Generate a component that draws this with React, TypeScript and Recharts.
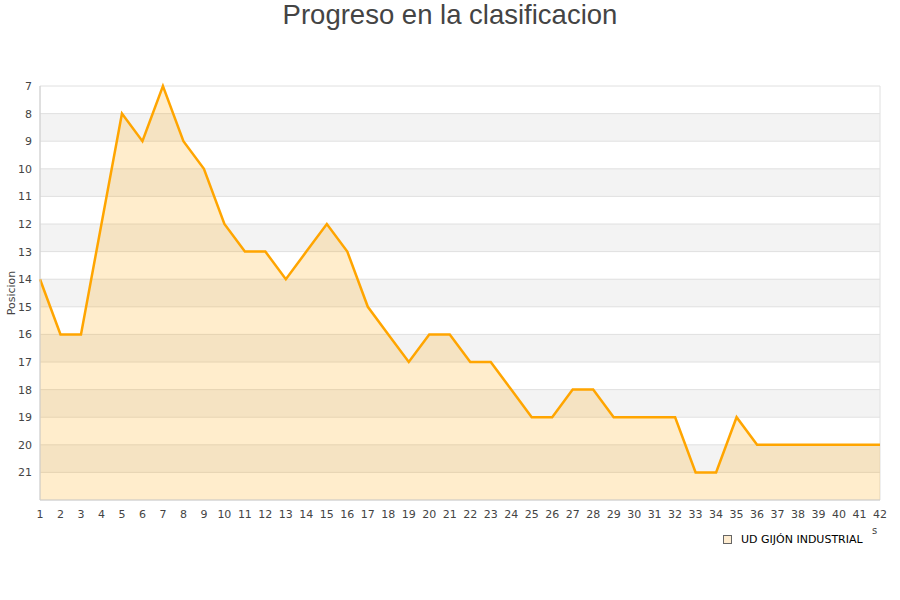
import { Area, CartesianGrid, ComposedChart, XAxis, YAxis } from 'recharts';

const jornadas = [
  1, 2, 3, 4, 5, 6, 7, 8, 9, 10, 11, 12, 13, 14, 15, 16, 17, 18, 19, 20, 21,
  22, 23, 24, 25, 26, 27, 28, 29, 30, 31, 32, 33, 34, 35, 36, 37, 38, 39, 40, 41, 42,
];
const posiciones = [
  14, 16, 16, 12, 8, 9, 7, 9, 10, 12, 13, 13, 14, 13, 12, 13, 15, 16, 17, 16, 16,
  17, 17, 18, 19, 19, 18, 18, 19, 19, 19, 19, 21, 21, 19, 20, 20, 20, 20, 20, 20, 20,
];
const yTicks = [7, 8, 9, 10, 11, 12, 13, 14, 15, 16, 17, 18, 19, 20, 21, 22];

const data = jornadas.map((j, i) => ({ jornada: j, pos: posiciones[i] }));

const tickStyle = { fontFamily: 'DejaVu Sans', fontSize: 11, fill: '#444' };

export default function App() {
  return (
    <div style={{ position: 'absolute', left: 0, top: 0, width: 900, height: 600, background: '#fff' }}>
      <div
        style={{
          position: 'absolute',
          left: 0,
          top: -1,
          width: 900,
          textAlign: 'center',
          fontFamily: 'Liberation Sans',
          fontSize: 27.5,
          color: '#444',
          lineHeight: '32px',
        }}
      >
        Progreso en la clasificacion
      </div>
      <ComposedChart width={900} height={600} data={data} margin={{ top: 86, right: 20, bottom: 70, left: 0 }}>
        <CartesianGrid
          stroke="#e0e0e0"
          horizontalFill={['#ffffff', '#f3f3f3']}
          fillOpacity={1}
          verticalCoordinatesGenerator={({ offset }: any) => [offset.left, offset.left + offset.width]}
        />
        <XAxis
          dataKey="jornada"
          type="number"
          domain={[1, 42]}
          ticks={jornadas}
          interval={0}
          tickLine={false}
          tickMargin={4}
          axisLine={{ stroke: '#d0d0d0' }}
          tick={tickStyle}
          height={30}
        />
        <YAxis
          reversed
          type="number"
          domain={[7, 22]}
          ticks={yTicks}
          interval={0}
          tickLine={false}
          axisLine={{ stroke: '#d0d0d0' }}
          tick={tickStyle}
          tickFormatter={(v: number) => (v === 22 ? '' : String(v))}
          width={40}
        />
        <Area
          type="linear"
          dataKey="pos"
          baseValue="dataMax"
          stroke="#ffa500"
          strokeWidth={2.5}
          fill="#ffa500"
          fillOpacity={0.2}
          dot={false}
          activeDot={false}
          isAnimationActive={false}
        />
      </ComposedChart>
      <div
        style={{
          position: 'absolute',
          left: 11,
          top: 293,
          transform: 'translate(-50%, -50%) rotate(-90deg)',
          fontFamily: 'DejaVu Sans',
          fontSize: 11,
          color: '#444',
          whiteSpace: 'nowrap',
        }}
      >
        Posicion
      </div>
      <div
        style={{
          position: 'absolute',
          left: 872,
          top: 525,
          fontFamily: 'DejaVu Sans',
          fontSize: 10,
          color: '#444',
        }}
      >
        s
      </div>
      <div
        style={{
          position: 'absolute',
          left: 723,
          top: 533,
          display: 'flex',
          alignItems: 'center',
          fontFamily: 'DejaVu Sans',
          fontSize: 11,
          color: '#000',
        }}
      >
        <span
          style={{
            display: 'inline-block',
            width: 7,
            height: 7,
            background: '#feecd0',
            border: '1px solid #666',
            marginRight: 9,
          }}
        />
        UD GIJÓN INDUSTRIAL
      </div>
    </div>
  );
}
